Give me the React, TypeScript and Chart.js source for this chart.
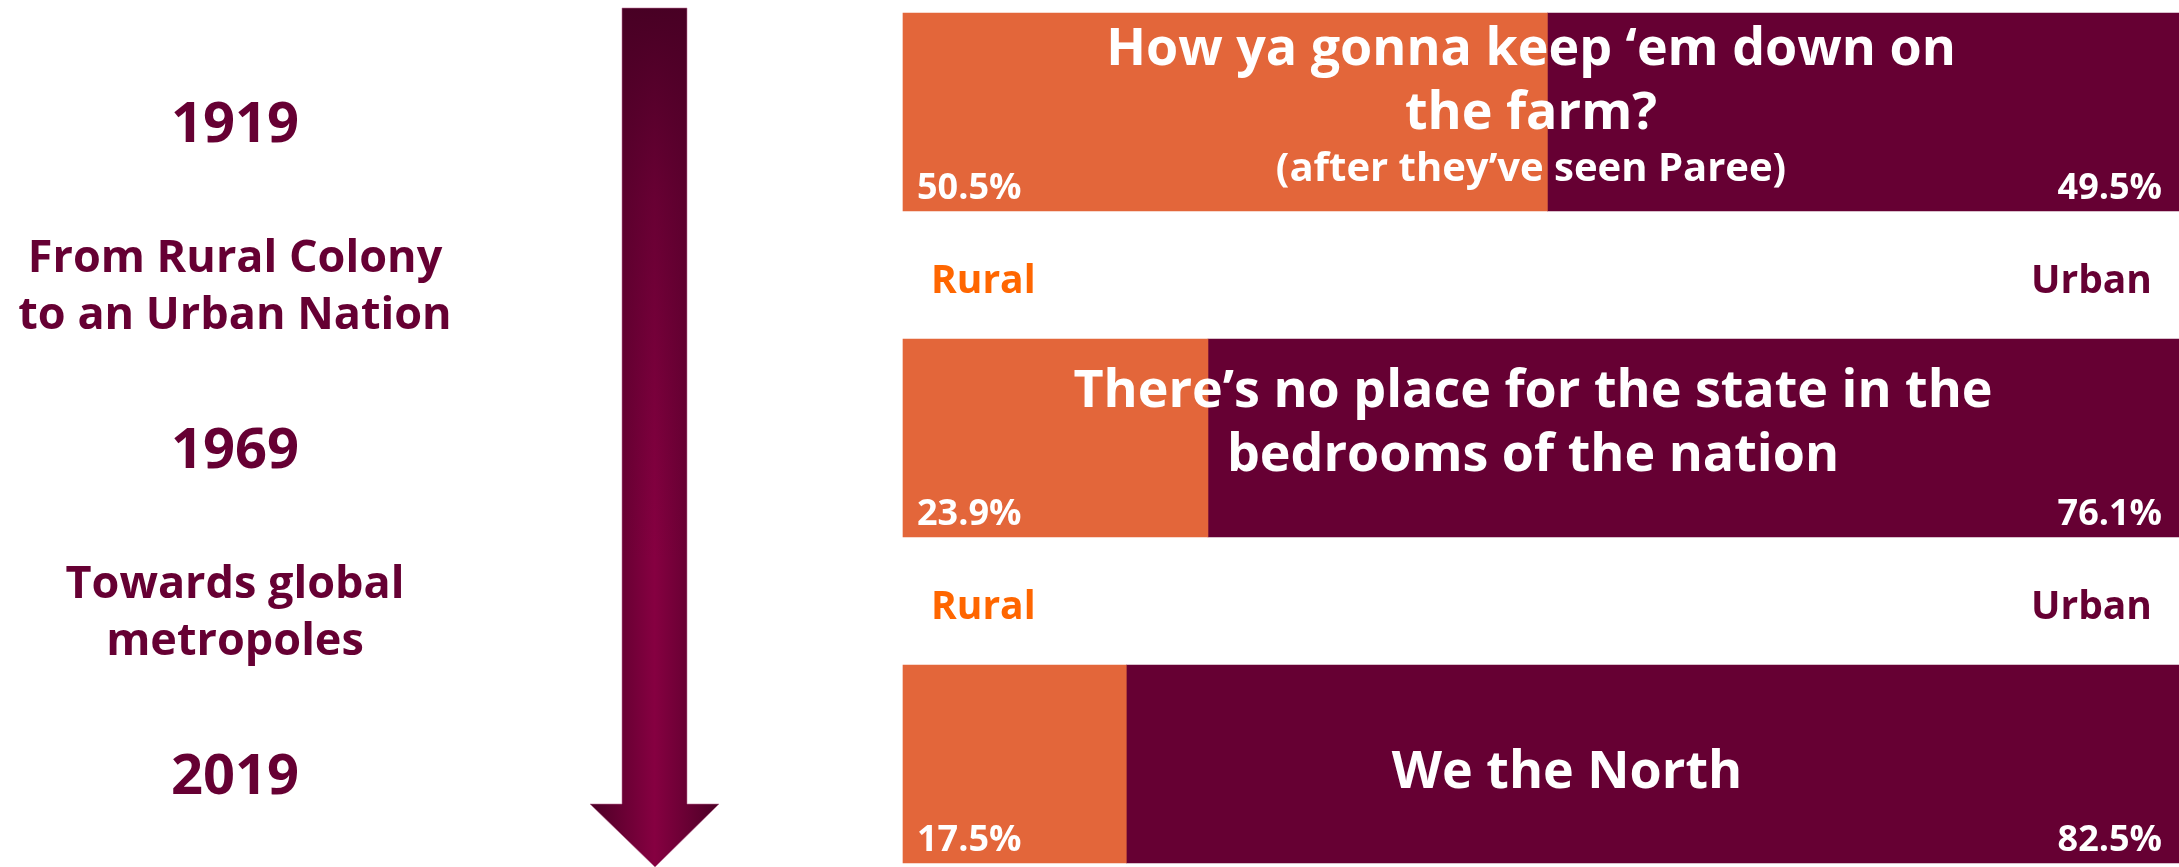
import React, { useEffect, useRef } from 'react';
import { Chart, registerables } from 'chart.js';

Chart.register(...registerables);

// ---------- data ----------
const categories = ['1919', '1969', '2019'];
const seriesNames = ['Rural', 'Urban'];
const ruralShare = [50.5, 23.9, 17.5];
const urbanShare = [49.5, 76.1, 82.5];
const barTitles = [
  ['How ya gonna keep \u2018em down on', 'the farm?'],
  ['There\u2019s no place for the state in the', 'bedrooms of the nation'],
  ['We the North'],
];
const barSubtitles = ['(after they\u2019ve seen Paree)', '', ''];
const eraCaptions = [
  ['From Rural Colony', 'to an Urban Nation'],
  ['Towards global', 'metropoles'],
];

// ---------- styling / layout ----------
const W = 2179;
const H = 867;
const FONT = '"Open Sans", "DejaVu Sans", sans-serif';
const RURAL_BAR = '#e3663a';
const URBAN_BAR = '#660033';
const RURAL_TEXT = '#ff6600';
const DARK_TEXT = '#660033';
const titleShiftX = [-10, -8, 26];
const titleFirstBaseline = [52, 68, 123];

const overlayPlugin = {
  id: 'overlayPlugin',
  afterDatasetsDraw(chart: any) {
    const ctx: CanvasRenderingContext2D = chart.ctx;
    const area = chart.chartArea;
    const ruralMeta = chart.getDatasetMeta(0);
    const bars = ruralMeta.data;
    ctx.save();

    // ---- arrow ----
    const ax0 = 622, ax1 = 687, hx0 = 590, hx1 = 719, tipX = 655;
    const topY = 8, neckY = 804, tipY = 867;
    const path = new Path2D();
    path.moveTo(ax0, topY);
    path.lineTo(ax1, topY);
    path.lineTo(ax1, neckY);
    path.lineTo(hx1, neckY);
    path.lineTo(tipX, tipY);
    path.lineTo(hx0, neckY);
    path.lineTo(ax0, neckY);
    path.closePath();
    const hg = ctx.createLinearGradient(hx0, 0, hx1, 0);
    hg.addColorStop(0, '#4c0026');
    hg.addColorStop(0.5, '#860041');
    hg.addColorStop(1, '#4c0026');
    ctx.fillStyle = hg;
    ctx.fill(path);
    const vg = ctx.createLinearGradient(0, topY, 0, 560);
    vg.addColorStop(0, 'rgba(72,0,36,1)');
    vg.addColorStop(0.35, 'rgba(80,0,40,0.55)');
    vg.addColorStop(1, 'rgba(90,0,45,0)');
    ctx.fillStyle = vg;
    ctx.fill(path);
    ctx.strokeStyle = 'rgba(190,110,150,0.55)';
    ctx.lineWidth = 1;
    ctx.stroke(path);

    // ---- left side text ----
    const cx = 235;
    ctx.textAlign = 'center';
    ctx.textBaseline = 'alphabetic';
    ctx.fillStyle = DARK_TEXT;
    ctx.font = `bold 56px ${FONT}`;
    categories.forEach((c, i) => {
      const b = bars[i];
      if (b) ctx.fillText(c, cx, b.y + 30);
    });
    ctx.font = `bold 45px ${FONT}`;
    eraCaptions.forEach((lines, i) => {
      const b0 = bars[i], b1 = bars[i + 1];
      if (!b0 || !b1) return;
      const mid = (b0.y + b1.y) / 2;
      lines.forEach((ln, k) => ctx.fillText(ln, cx, mid - 3 + k * 57));
    });

    // ---- series labels in the gaps ----
    ctx.font = `bold 39px ${FONT}`;
    for (let i = 0; i < bars.length - 1; i++) {
      const mid = (bars[i].y + bars[i + 1].y) / 2;
      ctx.textAlign = 'left';
      ctx.fillStyle = RURAL_TEXT;
      ctx.fillText(seriesNames[0], area.left + 28, mid + 18);
      ctx.textAlign = 'right';
      ctx.fillStyle = DARK_TEXT;
      ctx.fillText(seriesNames[1], area.right - 27, mid + 18);
    }

    // ---- values and titles inside bars ----
    bars.forEach((b: any, i: number) => {
      const top = b.y - b.height / 2;
      const bottom = b.y + b.height / 2;
      ctx.fillStyle = '#ffffff';
      ctx.font = `bold 36px ${FONT}`;
      ctx.textAlign = 'left';
      ctx.fillText(`${ruralShare[i].toFixed(1)}%`, area.left + 14, bottom - 12);
      ctx.textAlign = 'right';
      ctx.fillText(`${urbanShare[i].toFixed(1)}%`, area.right - 17, bottom - 12);

      const tx = (area.left + area.right) / 2 + titleShiftX[i];
      ctx.textAlign = 'center';
      ctx.font = `bold 52px ${FONT}`;
      const y = top + titleFirstBaseline[i];
      barTitles[i].forEach((ln, k) => {
        ctx.fillText(ln, tx, y + k * 64);
      });
      if (barSubtitles[i]) {
        ctx.font = `bold 40px ${FONT}`;
        ctx.fillText(barSubtitles[i], tx, y + (barTitles[i].length - 1) * 64 + 52);
      }
    });
    ctx.restore();
  },
};

export default function App() {
  const ref = useRef<HTMLCanvasElement | null>(null);
  useEffect(() => {
    document.body.style.margin = '0';
    document.body.style.overflow = 'hidden';
    document.body.style.background = '#ffffff';
    if (!ref.current) return;
    const chart = new Chart(ref.current, {
      type: 'bar',
      data: {
        labels: categories,
        datasets: [
          {
            label: seriesNames[0],
            data: ruralShare,
            backgroundColor: RURAL_BAR,
            barThickness: 198,
            clip: false as any,
          },
          {
            label: seriesNames[1],
            data: urbanShare,
            backgroundColor: URBAN_BAR,
            barThickness: 198,
            clip: false as any,
          },
        ],
      },
      options: {
        indexAxis: 'y',
        responsive: false,
        animation: false,
        devicePixelRatio: 1,
        layout: { padding: { left: 903, right: 0, top: 112, bottom: 103 } },
        scales: {
          x: { stacked: true, min: 0, max: 100, display: false },
          y: { stacked: true, display: false, offset: false },
        },
        plugins: {
          legend: { display: false },
          tooltip: { enabled: false },
          title: { display: false },
        },
      },
      plugins: [overlayPlugin],
    });
    return () => chart.destroy();
  }, []);
  return (
    <div style={{ position: 'absolute', left: 0, top: 0, width: W, height: H, background: '#fff' }}>
      <canvas ref={ref} width={W} height={H} style={{ display: 'block', width: W, height: H }} />
    </div>
  );
}
